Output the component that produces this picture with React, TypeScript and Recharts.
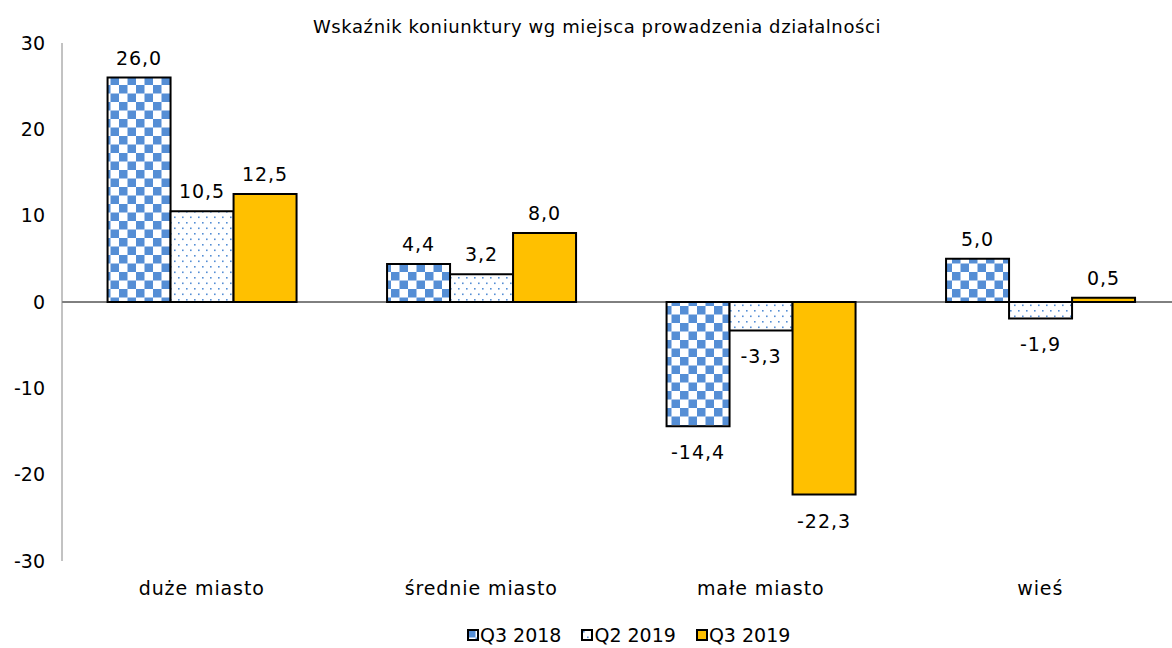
import { Bar, BarChart, LabelList, Legend, ReferenceLine, XAxis, YAxis } from "recharts";

const categories = ["duże miasto", "średnie miasto", "małe miasto", "wieś"];
const q3_2018 = [26.0, 4.4, -14.4, 5.0];
const q2_2019 = [10.5, 3.2, -3.3, -1.9];
const q3_2019 = [12.5, 8.0, -22.3, 0.5];
const yTicks = [-30, -20, -10, 0, 10, 20, 30];
const seriesNames = ["Q3 2018", "Q2 2019", "Q3 2019"];

const data = categories.map((name, i) => ({
  name,
  a: q3_2018[i],
  b: q2_2019[i],
  c: q3_2019[i],
}));

const FONT = "'DejaVu Sans', sans-serif";
const BLUE = "#558ed5";
const GOLD = "#ffc000";

const fmt = (v: number) => v.toFixed(1).replace(".", ",");

function ValueLabel(props: any) {
  const { x, y, width, height, value } = props;
  const top = Math.min(y, y + height);
  const bottom = Math.max(y, y + height);
  const neg = value < 0;
  return (
    <text
      x={x + width / 2}
      y={neg ? bottom + 33 : top - 13}
      textAnchor="middle"
      fontSize={19}
      letterSpacing={1}
      fill="#000"
      fontFamily={FONT}
    >
      {fmt(value)}
    </text>
  );
}

function LegendBox() {
  const fills = ["url(#checker)", "url(#dots)", GOLD];
  return (
    <div style={{ display: "flex", paddingLeft: 467, gap: 20, fontFamily: FONT, fontSize: 19, color: "#000" }}>
      {seriesNames.map((s, i) => (
        <div key={s} style={{ display: "flex", alignItems: "center" }}>
          <svg width={12} height={12} style={{ marginRight: 1 }}>
            <rect x={1} y={1} width={10} height={10} fill={fills[i]} stroke="#000" strokeWidth={2} />
          </svg>
          <span>{s}</span>
        </div>
      ))}
    </div>
  );
}

export default function App() {
  return (
    <div style={{ position: "absolute", left: 0, top: 0, width: 1172, height: 648, background: "#fff", overflow: "hidden" }}>
      <div
        style={{
          position: "absolute",
          top: 16,
          left: 11,
          width: 1172,
          textAlign: "center",
          fontFamily: FONT,
          fontSize: 18,
          letterSpacing: 0.6,
          color: "#000",
        }}
      >
        Wskaźnik koniunktury wg miejsca prowadzenia działalności
      </div>
      <BarChart
        width={1180}
        height={648}
        data={data}
        margin={{ top: 43, right: 0, bottom: 25, left: 0 }}
        barCategoryGap="16.3%"
        barGap={0}
      >
        <defs>
          <pattern id="checker" patternUnits="userSpaceOnUse" width={17} height={17}>
            <rect width={17} height={17} fill="#fff" />
            <rect x={0} y={0} width={8.5} height={8.5} fill={BLUE} />
            <rect x={8.5} y={8.5} width={8.5} height={8.5} fill={BLUE} />
          </pattern>
          <pattern id="dots" patternUnits="userSpaceOnUse" width={8} height={11}>
            <rect width={8} height={11} fill="#fff" />
            <rect x={2} y={2} width={1.6} height={1.6} fill={BLUE} />
            <rect x={6} y={7.5} width={1.6} height={1.6} fill={BLUE} />
          </pattern>
        </defs>
        <XAxis
          dataKey="name"
          axisLine={false}
          tickLine={false}
          height={40}
          tickMargin={15}
          tick={{ fill: "#000", fontSize: 19, fontFamily: FONT, letterSpacing: 0.9 }}
        />
        <YAxis
          domain={[-30, 30]}
          ticks={yTicks}
          width={62}
          tickSize={0}
          tickMargin={17}
          axisLine={{ stroke: "#868686", strokeWidth: 1 }}
          tickLine={false}
          tick={{ fill: "#000", fontSize: 19, fontFamily: FONT }}
        />
        <ReferenceLine y={0} stroke="#000" strokeWidth={1} />
        <Legend verticalAlign="bottom" align="left" content={() => <LegendBox />} wrapperStyle={{ bottom: 2, left: 0 }} />
        <Bar dataKey="a" name={seriesNames[0]} fill="url(#checker)" stroke="#000" strokeWidth={2} isAnimationActive={false}>
          <LabelList dataKey="a" content={ValueLabel} />
        </Bar>
        <Bar dataKey="b" name={seriesNames[1]} fill="url(#dots)" stroke="#000" strokeWidth={2} isAnimationActive={false}>
          <LabelList dataKey="b" content={ValueLabel} />
        </Bar>
        <Bar dataKey="c" name={seriesNames[2]} fill={GOLD} stroke="#000" strokeWidth={2} isAnimationActive={false}>
          <LabelList dataKey="c" content={ValueLabel} />
        </Bar>
      </BarChart>
    </div>
  );
}
